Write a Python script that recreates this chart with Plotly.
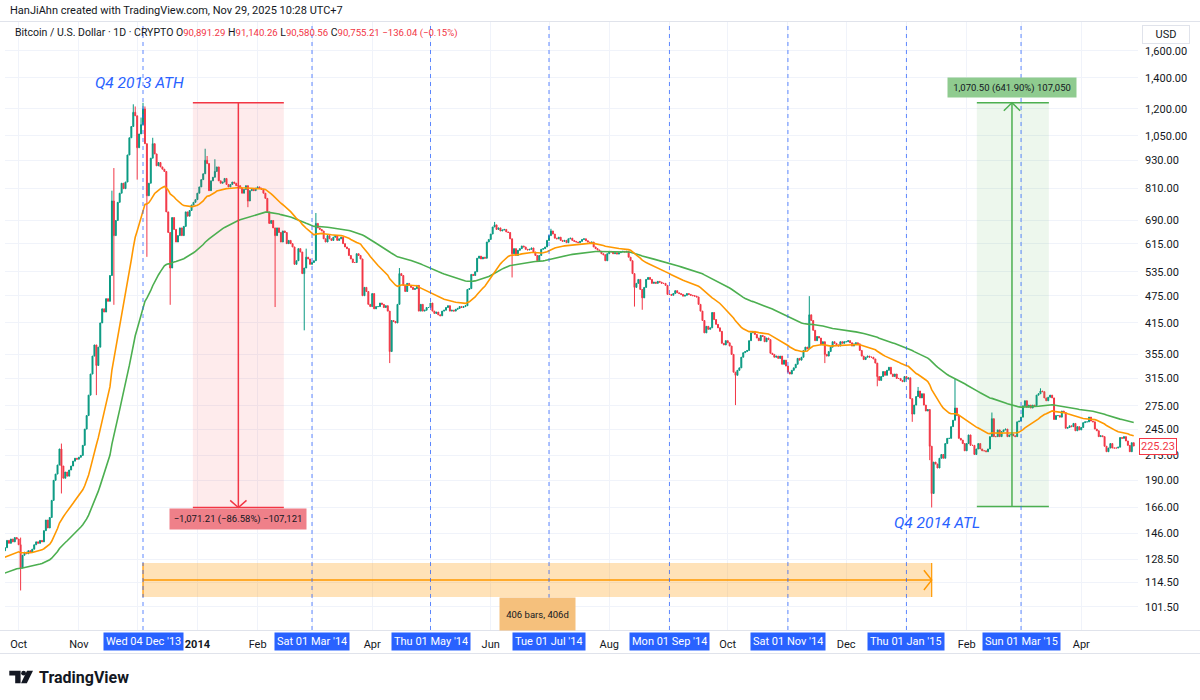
import numpy as np
import pandas as pd
import plotly.graph_objects as go

# ------------------------------------------------------------------ data (daily closes)
close_2013_06 = [128, 122, 121, 121, 121, 118, 110, 111, 104, 106, 108, 109, 104, 100, 100, 99, 101, 106, 108, 109,
                 111, 108, 107, 104, 101, 102, 101, 95, 94, 97]
close_2013_07 = [89, 87, 78, 79, 70, 69, 71, 74, 76, 84, 88, 93, 96, 97, 100, 98, 97, 90, 89, 90, 91, 90, 92, 96, 97,
                 95, 94, 95, 98, 103, 106]
close_2013_08 = [104, 104, 105, 104, 105, 106, 106, 105, 104, 105, 106, 107, 108, 109, 110, 111, 112, 113, 114, 116,
                 118, 119, 120, 122, 122, 123, 124, 126, 128, 130, 132]
close_2013_09 = [134, 135, 133, 131, 129, 128, 129, 130, 132, 133, 135, 136, 137, 136, 135, 134, 134, 135, 136, 137,
                 136, 135, 134, 136, 141, 139, 142, 140, 143, 142]
close_2013_10 = [138, 123, 131, 133, 132, 134, 133, 135, 138, 140, 139, 141, 140, 148, 156, 150, 158, 172, 190, 196,
                 205, 222, 204, 192, 198, 194, 200, 204, 209, 212, 211]
close_2013_11 = [213, 215, 226, 245, 262, 290, 322, 352, 372, 336, 368, 415, 445, 438, 468, 462, 525, 760, 640, 690,
                 755, 790, 830, 808, 835, 955, 1040, 1100, 1180, 1160]
close_2013_12 = [990, 1060, 1110, 1200, 1010, 780, 830, 940, 1010, 960, 905, 920, 900, 890, 880, 720, 650, 545, 700,
                 660, 620, 640, 665, 640, 670, 720, 705, 725, 745, 755, 765]
close_2014_01 = [790, 815, 845, 870, 930, 915, 800, 840, 855, 880, 900, 840, 830, 835, 850, 825, 815, 825, 835, 830,
                 820, 820, 810, 790, 805, 820, 760, 800, 805, 800, 810]
close_2014_02 = [815, 810, 805, 790, 770, 720, 680, 690, 665, 640, 665, 650, 620, 655, 650, 615, 625, 615, 605, 555,
                 565, 600, 590, 530, 545, 575, 570, 555]
close_2014_03 = [560, 565, 680, 665, 660, 655, 630, 620, 640, 630, 625, 635, 640, 625, 630, 635, 615, 605, 600, 580,
                 570, 560, 560, 585, 580, 570, 475, 495, 485, 455, 450]
close_2014_04 = [480, 445, 450, 450, 458, 455, 448, 452, 440, 360, 420, 418, 415, 455, 530, 525, 500, 485, 505, 500,
                 495, 490, 492, 500, 440, 455, 440, 442, 448, 448]
close_2014_05 = [458, 440, 435, 438, 432, 430, 440, 442, 448, 452, 440, 442, 440, 444, 446, 450, 448, 450, 452, 490,
                 492, 528, 525, 535, 572, 578, 570, 575, 572, 620, 628]
close_2014_06 = [645, 668, 675, 660, 665, 655, 658, 660, 652, 650, 630, 585, 600, 580, 595, 600, 608, 605, 598, 596,
                 598, 602, 590, 580, 565, 580, 598, 600, 605, 625]
close_2014_07 = [640, 655, 645, 632, 630, 635, 625, 622, 625, 618, 630, 632, 625, 622, 620, 618, 622, 628, 630, 624,
                 620, 618, 620, 605, 600, 596, 592, 585, 582, 565, 585]
close_2014_08 = [592, 590, 585, 588, 584, 588, 590, 592, 590, 592, 575, 565, 530, 495, 505, 515, 490, 470, 495, 515,
                 520, 515, 505, 508, 505, 510, 508, 505, 505, 500, 478]
close_2014_09 = [478, 476, 480, 487, 482, 480, 478, 474, 476, 480, 478, 476, 475, 474, 472, 455, 440, 420, 395, 408,
                 402, 405, 437, 422, 412, 405, 398, 375, 372, 380]
close_2014_10 = [376, 370, 355, 325, 320, 328, 332, 350, 358, 360, 362, 380, 395, 398, 392, 385, 380, 390, 388, 378,
                 385, 382, 357, 355, 350, 352, 348, 352, 338, 345, 335]
close_2014_11 = [325, 322, 328, 332, 338, 348, 345, 350, 362, 368, 365, 432, 420, 400, 380, 388, 385, 372, 378, 355,
                 352, 360, 368, 378, 375, 372, 370, 378, 375, 378]
close_2014_12 = [378, 380, 376, 370, 374, 376, 374, 362, 352, 346, 350, 352, 350, 350, 347, 340, 318, 312, 318, 326,
                 320, 328, 333, 322, 318, 322, 315, 315, 312, 310, 318]
close_2015_01 = [314, 316, 285, 264, 276, 288, 296, 286, 292, 276, 268, 270, 225, 178, 208, 206, 202, 212, 216, 212,
                 228, 234, 234, 248, 256, 272, 262, 234, 232, 228, 220]
close_2015_02 = [228, 238, 226, 226, 216, 222, 228, 222, 220, 220, 219, 222, 236, 258, 236, 236, 244, 236, 242, 244,
                 245, 236, 238, 239, 237, 236, 254, 255]
close_2015_03 = [260, 275, 282, 273, 276, 272, 276, 275, 290, 292, 296, 295, 286, 282, 287, 290, 286, 257, 262, 262,
                 260, 268, 266, 246, 247, 249, 248, 252, 243, 248, 244]
close_2015_04 = [247, 253, 254, 254, 260, 255, 254, 245, 243, 236, 237, 236, 225, 219, 223, 228, 223, 223, 223, 224,
                 235, 234, 236, 231, 226, 219, 229, 225.23]

first_date = "2013-06-01"

# notable wicks (date -> price)
wick_high = {
    "2013-10-02": 143, "2013-10-23": 228, "2013-11-18": 800, "2013-11-19": 895, "2013-11-29": 1228,
    "2013-11-30": 1215, "2013-12-03": 1150, "2013-12-04": 1237.27, "2013-12-05": 1215, "2013-12-09": 1040,
    "2014-01-05": 985, "2014-01-06": 950, "2014-01-10": 935, "2014-02-26": 600, "2014-03-03": 716,
    "2014-04-15": 545, "2014-06-03": 685, "2014-07-02": 662, "2014-11-12": 474, "2015-01-07": 302,
    "2015-01-26": 315, "2015-02-14": 266, "2015-03-11": 300,
}
wick_low = {
    "2013-10-02": 110, "2013-10-23": 178, "2013-11-10": 290, "2013-11-19": 454, "2013-12-01": 845,
    "2013-12-06": 576, "2013-12-18": 454, "2014-01-27": 737, "2014-02-10": 449, "2014-02-25": 400,
    "2014-04-10": 340, "2014-06-12": 520, "2014-08-14": 450, "2014-08-18": 443, "2014-10-05": 276,
    "2014-11-20": 340, "2014-12-17": 303, "2015-01-04": 254, "2015-01-13": 210, "2015-01-14": 166.06,
}

price_ticks = [101.5, 114.5, 128.5, 146, 166, 190, 215, 245, 275, 315, 355, 415, 475, 535, 615, 690,
               810, 930, 1050, 1200, 1400, 1600]

month_labels = ["Oct", "Nov", "", "<b>2014</b>", "Feb", "", "Apr", "", "Jun", "", "Aug", "", "Oct", "",
                "Dec", "", "Feb", "", "Apr"]
marker_dates = ["2013-12-04", "2014-03-01", "2014-05-01", "2014-07-01", "2014-09-01", "2014-11-01",
                "2015-01-01", "2015-03-01"]
marker_labels = ["Wed 04 Dec '13", "Sat 01 Mar '14", "Thu 01 May '14", "Tue 01 Jul '14", "Mon 01 Sep '14",
                 "Sat 01 Nov '14", "Thu 01 Jan '15", "Sun 01 Mar '15"]

legend_ohlc = [("O", "90,891.29"), ("H", "91,140.26"), ("L", "90,580.56"), ("C", "90,755.21")]
legend_change = "−136.04 (−0.15%)"

# drawing tools
ath_price = 1237.27
red_low = 166.06
green_low = 166.77
red_box = ("2013-12-29 16:00", "2014-02-14 12:00", "2014-01-22 02:00")
green_box = ("2015-02-06 06:00", "2015-03-15 08:00", "2015-02-24 08:00")
range_dates = ("2013-12-04", "2015-01-14")
range_band = (106.5, 115.8, 126.1)
ma_fast_len, ma_slow_len = 34, 89

# ------------------------------------------------------------------ build series
closes = (close_2013_06 + close_2013_07 + close_2013_08 + close_2013_09 + close_2013_10 + close_2013_11 +
          close_2013_12 + close_2014_01 + close_2014_02 + close_2014_03 + close_2014_04 + close_2014_05 +
          close_2014_06 + close_2014_07 + close_2014_08 + close_2014_09 + close_2014_10 + close_2014_11 +
          close_2014_12 + close_2015_01 + close_2015_02 + close_2015_03 + close_2015_04)
dates = pd.date_range(first_date, periods=len(closes), freq="D")
c = pd.Series(closes, index=dates, dtype=float)
o = c.shift(1).fillna(c.iloc[0])
h = pd.concat([o, c], axis=1).max(axis=1)
l = pd.concat([o, c], axis=1).min(axis=1)
for d, v in wick_high.items():
    h[pd.Timestamp(d)] = max(h[pd.Timestamp(d)], v)
for d, v in wick_low.items():
    l[pd.Timestamp(d)] = min(l[pd.Timestamp(d)], v)
ema_fast = c.ewm(span=ma_fast_len, adjust=False).mean()
ema_slow = c.ewm(span=ma_slow_len, adjust=False).mean()

UP = "#089981"
DOWN = "#f23645"
ORANGE = "#ff9800"
GREEN = "#4caf50"
BLUE = "#2962ff"
TEXT = "#131722"
FONT = "Roboto, Liberation Sans, sans-serif"

L, R, T, B = 5, 62, 22, 70
W, H = 1200, 700
PW, PH = W - L - R, H - T - B


def fx(px):
    return (px - L) / PW


def fy(py):
    return (H - B - py) / PH


fig = go.Figure()

r0, r1, rm = [pd.Timestamp(v) for v in red_box]
g0, g1, gm = [pd.Timestamp(v) for v in green_box]
d0, d1 = [pd.Timestamp(v) for v in range_dates]
lo_b, mid_b, hi_b = range_band


def add_line(xs, ys, color, width=1.5):
    fig.add_trace(go.Scatter(x=xs, y=ys, mode="lines", line=dict(color=color, width=width), hoverinfo="skip"))


def add_fill(xa, xb, ya, yb, color):
    fig.add_trace(go.Scatter(x=[xa, xb, xb, xa, xa], y=[yb, yb, ya, ya, yb], fill="toself", fillcolor=color,
                             line=dict(width=0), mode="lines", hoverinfo="skip"))


add_fill(r0, r1, red_low, ath_price, "rgba(242,54,69,0.10)")
add_fill(g0, g1, green_low, ath_price, "rgba(76,175,80,0.10)")
add_fill(d0, d1, lo_b, hi_b, "rgba(255,152,0,0.28)")

# candles
fig.add_trace(go.Candlestick(
    x=dates, open=o, high=h, low=l, close=c,
    increasing=dict(line=dict(color=UP, width=1), fillcolor=UP),
    decreasing=dict(line=dict(color=DOWN, width=1), fillcolor=DOWN),
    whiskerwidth=0, hoverinfo="skip", showlegend=False))

# moving averages
add_line(dates, ema_slow, GREEN, 1.6)
add_line(dates, ema_fast, ORANGE, 1.6)

day = pd.Timedelta(days=1)
# red price-range tool
add_line([r0, r1], [ath_price, ath_price], DOWN)
add_line([r0, r1], [red_low, red_low], DOWN)
add_line([rm, rm], [ath_price, red_low], DOWN)
add_line([rm - 4.2 * day, rm, rm + 4.2 * day], [red_low * 1.036, red_low, red_low * 1.036], DOWN)
# green price-range tool
add_line([g0, g1], [ath_price, ath_price], GREEN)
add_line([g0, g1], [green_low, green_low], GREEN)
add_line([gm, gm], [green_low, ath_price], GREEN)
add_line([gm - 4.2 * day, gm, gm + 4.2 * day], [ath_price / 1.04, ath_price, ath_price / 1.04], GREEN)
# orange date-range tool
add_line([d0, d0], [lo_b, hi_b], ORANGE, 1.2)
add_line([d1, d1], [lo_b, hi_b], ORANGE, 1.2)
add_line([d0, d1], [mid_b, mid_b], ORANGE)
add_line([d1 - 4 * day, d1, d1 - 4 * day], [mid_b * 1.05, mid_b, mid_b / 1.05], ORANGE)

# vertical dashed markers
shapes = []
for md in marker_dates:
    shapes.append(dict(type="line", xref="x", yref="paper", x0=md, x1=md, y0=0, y1=1,
                       line=dict(color="rgba(41,98,255,0.75)", width=1, dash="4px,4px"), layer="above"))
# frame lines
for yy in (21.5, 630.5, 653.5):
    shapes.append(dict(type="line", xref="paper", yref="paper", x0=fx(0), x1=fx(1200), y0=fy(yy), y1=fy(yy),
                       line=dict(color="#e0e3eb", width=1)))
# TradingView logo
shapes.append(dict(type="path", xref="paper", yref="paper", fillcolor=TEXT, line=dict(width=0),
                   path="M {a},{b} L {c},{b} L {c},{d} L {e},{d} L {e},{f} L {a},{f} Z".format(
                       a=fx(9.3), b=fy(670.8), c=fx(20.6), d=fy(683.2), e=fx(15.2), f=fy(675.4))))
shapes.append(dict(type="circle", xref="paper", yref="paper", fillcolor=TEXT, line=dict(width=0),
                   x0=fx(21.2), x1=fx(26.0), y0=fy(675.6), y1=fy(670.8)))
shapes.append(dict(type="path", xref="paper", yref="paper", fillcolor=TEXT, line=dict(width=0),
                   path="M {a},{b} L {c},{b} L {e},{f} L {g},{f} Z".format(
                       a=fx(27.0), b=fy(670.8), c=fx(33.0), e=fx(26.8), f=fy(683.2), g=fx(21.0))))

ann = []
ann.append(dict(xref="paper", yref="paper", x=fx(8), y=fy(11), xanchor="left", yanchor="middle",
                text="HanJiAhn created with TradingView.com, Nov 29, 2025 10:28 UTC+7",
                showarrow=False, font=dict(family=FONT, size=11, color=TEXT)))
val = "<span style='color:#f23645;font-size:9.6px'>{}</span>"
legend_text = "Bitcoin / U.S. Dollar · 1D · CRYPTO " + " ".join(k + val.format(v) for k, v in legend_ohlc)
legend_text += " " + val.format(legend_change)
ann.append(dict(xref="paper", yref="paper", x=fx(13), y=fy(33), xanchor="left", yanchor="middle",
                text=legend_text, showarrow=False, font=dict(family=FONT, size=10.5, color=TEXT)))
ann.append(dict(xref="paper", yref="paper", x=fx(1166), y=fy(34), xanchor="center", yanchor="middle",
                text="USD", showarrow=False, font=dict(family=FONT, size=11, color=TEXT),
                bgcolor="white", bordercolor="#e0e3eb", borderwidth=1, width=44, height=15))
ann.append(dict(xref="paper", yref="y", x=fx(1139), y=np.log10(c.iloc[-1]), xanchor="left", yanchor="middle",
                text=f"{c.iloc[-1]:,.2f}", showarrow=False, font=dict(family=FONT, size=11, color=DOWN),
                bgcolor="white", bordercolor=DOWN, borderwidth=1, borderpad=1))
for md, lab in zip(marker_dates, marker_labels):
    ann.append(dict(xref="x", yref="paper", x=md, y=fy(641.5), xanchor="center", yanchor="middle", text=lab,
                    showarrow=False, font=dict(family=FONT, size=11, color="white"), bgcolor=BLUE,
                    borderpad=2, height=13))
ann.append(dict(xref="paper", yref="paper", x=fx(37), y=fy(677), xanchor="left", yanchor="middle",
                text="<b>TradingView</b>", showarrow=False, font=dict(family=FONT, size=16, color=TEXT)))
# chart text notes
ann.append(dict(xref="x", yref="y", x="2013-12-02", y=np.log10(1365), xanchor="center", yanchor="middle",
                text="Q4 2013 ATH", showarrow=False,
                font=dict(family=FONT, size=15.5, color=BLUE, style="italic")))
ann.append(dict(xref="x", yref="y", x="2015-01-16 16:00", y=np.log10(153.8), xanchor="center", yanchor="middle",
                text="Q4 2014 ATL", showarrow=False,
                font=dict(family=FONT, size=15.5, color=BLUE, style="italic")))
# measurement labels
drop = ath_price - red_low
ann.append(dict(xref="x", yref="y", x=rm, y=np.log10(red_low / 1.06), xanchor="center", yanchor="middle",
                text=f"−{drop:,.2f} (−{drop / ath_price * 100:.2f}%) −{drop * 100:,.0f}",
                showarrow=False, font=dict(family=FONT, size=9.5, color=TEXT), bgcolor="#ef8089",
                width=130, height=14, borderpad=3))
rise = ath_price - green_low
ann.append(dict(xref="x", yref="y", x=gm, y=np.log10(ath_price * 1.078), xanchor="center", yanchor="middle",
                text=f"{rise:,.2f} ({rise / green_low * 100:.2f}%) {rise * 100:,.0f}",
                showarrow=False, font=dict(family=FONT, size=9.5, color=TEXT), bgcolor="#8fcb8f",
                width=122, height=13, borderpad=3))
nbars = (d1 - d0).days
ann.append(dict(xref="x", yref="y", x=d0 + (d1 - d0) / 2, y=np.log10(lo_b / 1.088), xanchor="center",
                yanchor="middle", text=f"{nbars} bars, {nbars}d", showarrow=False,
                font=dict(family=FONT, size=9.5, color=TEXT), bgcolor="#f5c07c",
                width=65, height=22, borderpad=5))

month_ticks = pd.date_range("2013-10-01", "2015-04-01", freq="MS")

fig.update_layout(
    width=W, height=H, margin=dict(l=L, r=R, t=T, b=B),
    paper_bgcolor="white", plot_bgcolor="white", showlegend=False,
    shapes=shapes, annotations=ann,
    xaxis=dict(type="date", range=["2013-09-23 23:00", "2015-04-30 05:00"], rangeslider=dict(visible=False),
               tickvals=month_ticks, ticktext=month_labels, showgrid=True, gridcolor="#f0f3fa", gridwidth=1,
               zeroline=False, showline=False, ticks="", tickfont=dict(family=FONT, size=11, color=TEXT),
               ticklabelstandoff=6, fixedrange=True),
    yaxis=dict(type="log", side="right", range=[np.log10(90.4), np.log10(1847.6)],
               tickvals=price_ticks, ticktext=[f"{v:,.2f}" for v in price_ticks], showgrid=True,
               gridcolor="#f0f3fa", gridwidth=1, zeroline=False, showline=False, ticks="",
               tickfont=dict(family=FONT, size=11, color=TEXT), ticklabelstandoff=6, fixedrange=True),
)

fig.write_html("out.html")
